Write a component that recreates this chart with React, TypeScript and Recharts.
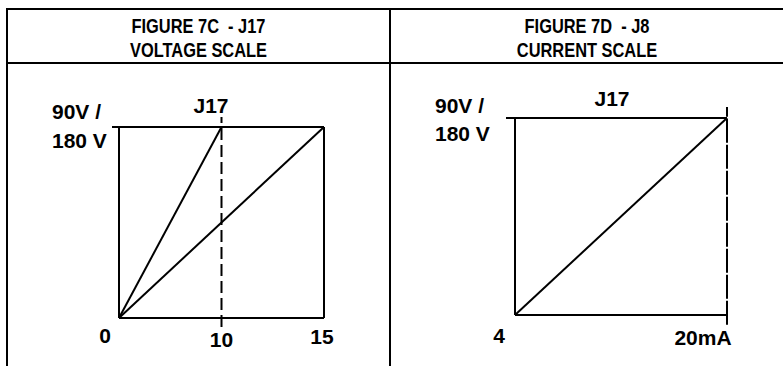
import { Line, LineChart, ReferenceLine, XAxis, YAxis } from "recharts";

// figure 7C - voltage scale (J17)
const voltageTicks = ["0", "10", "15"];
const voltageSteep = [0, 180, null];
const voltageShallow = [0, 90, 180];

// figure 7D - current scale (J8)
const currentTicks = [4, 20];
const currentOutput = [0, 180];

const yMax = 180;
const yTickLines = ["90V /", "180 V"];

const voltageData = voltageTicks.map((x, i) => ({
  x,
  steep: voltageSteep[i],
  shallow: voltageShallow[i],
}));

const currentData = currentTicks.map((x, i) => ({
  x,
  out: currentOutput[i],
}));

const LABEL_FONT = "'Liberation Sans', Arial, sans-serif";

// offsets of the x tick labels from the tick position
const xLabelShift: Record<string, [number, number]> = {
  "0": [-14, 17],
  "10": [0, 21],
  "15": [-2, 18],
  "4": [-16, 20],
  "20": [-24, 22],
};

const XTick = (props: any) => {
  const { x, y, payload } = props;
  const key = String(payload.value);
  const [dx, dy] = xLabelShift[key] || [0, 18];
  const text = key === "20" ? "20mA" : key;
  return (
    <text
      x={x + dx}
      y={y + dy}
      textAnchor="middle"
      dominantBaseline="central"
      fontFamily={LABEL_FONT}
      fontWeight="bold"
      fontSize={21}
      fill="#000"
    >
      {text}
    </text>
  );
};

const makeYTick = (dx: number, up: number, down: number) => (props: any) => {
  const { x, y } = props;
  return (
    <g>
      <text
        x={x + dx}
        y={y - up}
        dominantBaseline="central"
        fontFamily={LABEL_FONT}
        fontWeight="bold"
        fontSize={21}
        fill="#000"
      >
        {yTickLines[0]}
      </text>
      <text
        x={x + dx}
        y={y + down}
        dominantBaseline="central"
        fontFamily={LABEL_FONT}
        fontWeight="bold"
        fontSize={21}
        fill="#000"
      >
        {yTickLines[1]}
      </text>
    </g>
  );
};

const textStyle = {
  position: "absolute" as const,
  fontFamily: LABEL_FONT,
  fontWeight: "bold" as const,
  fontSize: 21,
  lineHeight: "24px",
  textAlign: "center" as const,
  color: "#000",
};

const Header = ({ left, width, lines }: { left: number; width: number; lines: string[] }) => (
  <div style={{ position: "absolute", left, top: 14, width }}>
    {lines.map((t) => (
      <div
        key={t}
        style={{
          fontFamily: LABEL_FONT,
          fontWeight: "bold",
          fontSize: 20,
          lineHeight: "24px",
          textAlign: "center",
          whiteSpace: "pre",
          transform: "scaleX(0.82)",
        }}
      >
        {t}
      </div>
    ))}
  </div>
);

export default function App() {
  return (
    <div
      style={{
        position: "absolute",
        left: 0,
        top: 0,
        width: 783,
        height: 366,
        background: "#fff",
        overflow: "hidden",
      }}
    >
      {/* table frame */}
      <div style={{ position: "absolute", left: 6, top: 8, width: 800, height: 2, background: "#000" }} />
      <div style={{ position: "absolute", left: 6, top: 8, width: 2, height: 400, background: "#000" }} />
      <div style={{ position: "absolute", left: 389, top: 8, width: 2, height: 400, background: "#000" }} />
      <div style={{ position: "absolute", left: 6, top: 62, width: 800, height: 2, background: "#000" }} />

      <Header left={8} width={381} lines={["FIGURE 7C  - J17", "VOLTAGE SCALE"]} />
      <Header left={391} width={392} lines={["FIGURE 7D  - J8", "CURRENT SCALE"]} />

      <div style={{ ...textStyle, left: 181, top: 94, width: 60 }}>J17</div>
      <div style={{ ...textStyle, left: 582, top: 87, width: 60 }}>J17</div>

      <div style={{ position: "absolute", left: 0, top: 70 }}>
        <LineChart
          width={360}
          height={296}
          data={voltageData}
          margin={{ top: 57, right: 36, left: 0, bottom: 0 }}
        >
          <XAxis
            dataKey="x"
            type="category"
            height={48}
            tickSize={0}
            tickMargin={0}
            tickLine={false}
            axisLine={{ stroke: "#000", strokeWidth: 2 }}
            tick={XTick}
            interval={0}
          />
          <YAxis
            type="number"
            domain={[0, yMax]}
            ticks={[yMax]}
            width={119}
            tickSize={7}
            tickMargin={0}
            tickLine={{ stroke: "#000", strokeWidth: 2 }}
            axisLine={{ stroke: "#000", strokeWidth: 2 }}
            tick={makeYTick(-60, 15.5, 13)}
          />
          <ReferenceLine y={yMax} stroke="#000" strokeWidth={2} />
          <ReferenceLine x="15" stroke="#000" strokeWidth={2} />
          <ReferenceLine
            segment={[
              { x: "10", y: -8.5 },
              { x: "10", y: 189.5 },
            ]}
            ifOverflow="visible"
            stroke="#000"
            strokeWidth={2}
            strokeDasharray="12 5"
          />
          <Line
            dataKey="steep"
            type="linear"
            stroke="#000"
            strokeWidth={2}
            dot={false}
            activeDot={false}
            isAnimationActive={false}
          />
          <Line
            dataKey="shallow"
            type="linear"
            stroke="#000"
            strokeWidth={2}
            dot={false}
            activeDot={false}
            isAnimationActive={false}
          />
        </LineChart>
      </div>

      <div style={{ position: "absolute", left: 400, top: 70 }}>
        <LineChart
          width={383}
          height={296}
          data={currentData}
          margin={{ top: 48, right: 56, left: 0, bottom: 0 }}
        >
          <XAxis
            dataKey="x"
            type="number"
            domain={[4, 20]}
            ticks={currentTicks}
            height={51}
            tickSize={0}
            tickMargin={0}
            tickLine={false}
            axisLine={{ stroke: "#000", strokeWidth: 2 }}
            tick={XTick}
            interval={0}
          />
          <YAxis
            type="number"
            domain={[0, yMax]}
            ticks={[yMax]}
            width={115}
            tickSize={9}
            tickMargin={0}
            tickLine={{ stroke: "#000", strokeWidth: 2 }}
            axisLine={{ stroke: "#000", strokeWidth: 2 }}
            tick={makeYTick(-71, 13, 15)}
          />
          <ReferenceLine y={yMax} stroke="#000" strokeWidth={2} />
          <ReferenceLine
            segment={[
              { x: 20, y: -9 },
              { x: 20, y: 190 },
            ]}
            ifOverflow="visible"
            stroke="#000"
            strokeWidth={2}
            strokeDasharray="24 2"
          />
          <Line
            dataKey="out"
            type="linear"
            stroke="#000"
            strokeWidth={2}
            dot={false}
            activeDot={false}
            isAnimationActive={false}
          />
        </LineChart>
      </div>
    </div>
  );
}
